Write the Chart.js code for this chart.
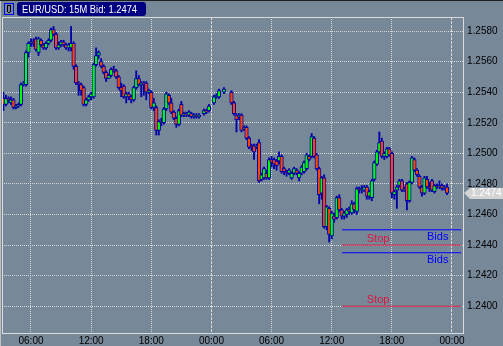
<!DOCTYPE html>
<html>
<head>
<meta charset="utf-8">
<style>
html, body { margin: 0; padding: 0; background: #778899; }
canvas { display: block; }
</style>
<script src="https://cdn.jsdelivr.net/npm/chart.js@4.4.1/dist/chart.umd.min.js"></script>
</head>
<body>
<canvas id="grafico" width="503" height="346"></canvas>
<script>
// datos de velas EUR/USD 15M (null = sin barra)
const opens = [
    1.2536,1.2532,1.2536,1.2533,1.2535,1.2530,1.2531,1.2532,1.2545,1.2545,
    1.2566,1.2572,1.2573,1.2575,1.2566,1.2574,1.2571,1.2569,1.2572,1.2574,
    1.2581,1.2578,1.2569,1.2571,1.2573,1.2571,1.2569,1.2569,1.2572,1.2557,
    1.2546,1.2545,1.2543,1.2532,1.2535,1.2537,1.2537,1.2558,1.2564,1.2560,
    1.2557,1.2553,1.2549,1.2551,1.2555,1.2554,1.2550,1.2543,1.2544,1.2537,
    1.2539,1.2537,1.2535,1.2543,1.2549,1.2545,1.2546,1.2546,1.2540,1.2540,
    1.2530,1.2530,1.2515,1.2521,1.2520,1.2529,1.2538,1.2533,1.2527,1.2523,
    1.2519,1.2532,1.2525,1.2526,1.2525,1.2526,1.2524,1.2525,1.2524,null,
    1.2526,1.2528,1.2528,null,1.2533,1.2537,1.2537,null,1.2540,null,
    null,1.2540,1.2533,1.2525,1.2524,1.2525,1.2516,1.2517,1.2510,1.2505,
    1.2505,1.2504,1.2507,1.2483,1.2484,1.2487,1.2484,1.2496,1.2496,1.2495,
    1.2495,1.2498,1.2490,1.2488,1.2487,1.2484,1.2487,1.2489,1.2484,1.2487,
    1.2488,1.2490,1.2498,1.2498,1.2510,1.2499,1.2490,1.2474,1.2484,1.2452,
    1.2464,1.2446,1.2459,1.2458,1.2471,1.2463,1.2459,1.2460,1.2463,1.2461,
    1.2467,1.2462,1.2477,1.2476,1.2476,1.2478,1.2472,1.2471,1.2483,1.2493,
    1.2501,1.2508,1.2498,1.2498,1.2503,1.2500,1.2473,1.2476,1.2479,1.2482,
    1.2476,1.2480,1.2469,1.2481,1.2496,1.2489,1.2485,1.2478,1.2474,1.2483,
    1.2478,1.2482,1.2475,1.2479,1.2478,1.2479,1.2477,1.2478
];
const highs = [
    1.2540,1.2538,1.2537,1.2537,1.2536,1.2532,1.2533,1.2546,1.2547,1.2567,
    1.2573,1.2575,1.2575,1.2576,1.2576,1.2575,1.2572,1.2573,1.2575,1.2582,
    1.2583,1.2579,1.2573,1.2574,1.2574,1.2572,1.2572,1.2583,1.2573,1.2558,
    1.2547,1.2546,1.2544,1.2536,1.2538,1.2540,1.2559,1.2569,1.2567,1.2562,
    1.2558,1.2554,1.2552,1.2556,1.2557,1.2555,1.2551,1.2546,1.2545,1.2540,
    1.2540,1.2538,1.2544,1.2554,1.2551,1.2547,1.2547,1.2547,1.2542,1.2541,
    1.2536,1.2531,1.2522,1.2523,1.2530,1.2540,1.2539,1.2536,1.2528,1.2524,
    1.2529,1.2534,1.2527,1.2527,1.2528,1.2527,1.2526,1.2526,1.2526,null,
    1.2529,1.2529,1.2532,null,1.2538,1.2539,1.2542,null,1.2543,null,
    null,1.2541,1.2534,1.2526,1.2526,1.2526,1.2518,1.2518,1.2511,1.2506,
    1.2506,1.2506,1.2509,1.2487,1.2491,1.2489,1.2497,1.2498,1.2497,1.2496,
    1.2501,1.2499,1.2491,1.2489,1.2490,1.2488,1.2491,1.2490,1.2488,1.2492,
    1.2495,1.2500,1.2499,1.2513,1.2511,1.2500,1.2491,1.2485,1.2486,1.2466,
    1.2465,1.2462,1.2461,1.2472,1.2473,1.2464,1.2462,1.2464,1.2465,1.2469,
    1.2468,1.2478,1.2478,1.2479,1.2479,1.2479,1.2476,1.2483,1.2495,1.2502,
    1.2514,1.2510,1.2501,1.2504,1.2504,1.2501,1.2476,1.2479,1.2483,1.2483,
    1.2478,1.2481,1.2482,1.2498,1.2497,1.2490,1.2486,1.2479,1.2485,1.2485,
    1.2481,1.2483,1.2480,1.2480,1.2482,1.2480,1.2479,1.2480
];
const lows = [
    1.2528,1.2531,1.2533,1.2532,1.2529,1.2529,1.2530,1.2531,1.2544,1.2544,
    1.2563,1.2570,1.2570,1.2567,1.2564,1.2570,1.2568,1.2568,1.2571,1.2573,
    1.2577,1.2568,1.2568,1.2570,1.2570,1.2568,1.2567,1.2567,1.2555,1.2545,
    1.2538,1.2538,1.2531,1.2531,1.2534,1.2535,1.2536,1.2557,1.2562,1.2556,
    1.2552,1.2547,1.2549,1.2550,1.2553,1.2549,1.2542,1.2537,1.2536,1.2533,
    1.2535,1.2533,1.2534,1.2542,1.2544,1.2537,1.2538,1.2535,1.2539,1.2529,
    1.2528,1.2512,1.2512,1.2518,1.2519,1.2528,1.2532,1.2526,1.2522,1.2517,
    1.2518,1.2524,1.2524,1.2524,1.2524,1.2523,1.2523,1.2523,1.2523,null,
    1.2525,1.2526,1.2527,null,1.2532,1.2536,1.2536,null,1.2539,null,
    null,1.2532,1.2525,1.2514,1.2522,1.2514,1.2515,1.2509,1.2503,1.2502,
    1.2496,1.2503,1.2481,1.2482,1.2483,1.2483,1.2483,1.2491,1.2490,1.2489,
    1.2493,1.2487,1.2486,1.2485,1.2486,1.2483,1.2486,1.2486,1.2482,1.2486,
    1.2487,1.2489,1.2495,1.2497,1.2497,1.2489,1.2467,1.2470,1.2451,1.2450,
    1.2442,1.2444,1.2455,1.2457,1.2462,1.2457,1.2457,1.2458,1.2460,1.2460,
    1.2461,1.2460,1.2474,1.2474,1.2475,1.2470,1.2470,1.2469,1.2482,1.2492,
    1.2500,1.2497,1.2496,1.2497,1.2498,1.2471,1.2470,1.2464,1.2478,1.2475,
    1.2475,1.2463,1.2468,1.2480,1.2488,1.2485,1.2477,1.2472,1.2473,1.2477,
    1.2475,1.2475,1.2474,1.2477,1.2477,1.2476,1.2476,1.2473
];
const closes = [
    1.2532,1.2536,1.2535,1.2535,1.2530,1.2531,1.2532,1.2545,1.2546,1.2566,
    1.2572,1.2573,1.2572,1.2568,1.2575,1.2571,1.2569,1.2572,1.2574,1.2581,
    1.2578,1.2569,1.2571,1.2573,1.2571,1.2569,1.2571,1.2572,1.2557,1.2546,
    1.2545,1.2541,1.2532,1.2535,1.2537,1.2539,1.2558,1.2564,1.2566,1.2557,
    1.2553,1.2549,1.2551,1.2555,1.2554,1.2550,1.2543,1.2541,1.2537,1.2539,
    1.2537,1.2535,1.2543,1.2549,1.2545,1.2546,1.2545,1.2540,1.2541,1.2530,
    1.2533,1.2515,1.2521,1.2520,1.2529,1.2539,1.2533,1.2527,1.2523,1.2519,
    1.2528,1.2525,1.2526,1.2525,1.2527,1.2524,1.2525,1.2524,1.2525,null,
    1.2528,1.2527,1.2531,null,1.2537,1.2538,1.2541,null,1.2542,null,
    null,1.2533,1.2526,1.2522,1.2525,1.2515,1.2517,1.2510,1.2504,1.2504,
    1.2501,1.2505,1.2482,1.2486,1.2490,1.2484,1.2496,1.2494,1.2493,1.2492,
    1.2498,1.2488,1.2488,1.2487,1.2489,1.2487,1.2490,1.2487,1.2487,1.2491,
    1.2494,1.2499,1.2496,1.2511,1.2498,1.2490,1.2473,1.2484,1.2452,1.2465,
    1.2447,1.2461,1.2457,1.2471,1.2463,1.2459,1.2461,1.2463,1.2462,1.2467,
    1.2463,1.2477,1.2476,1.2477,1.2478,1.2472,1.2475,1.2482,1.2494,1.2501,
    1.2507,1.2498,1.2500,1.2503,1.2499,1.2474,1.2475,1.2478,1.2482,1.2476,
    1.2477,1.2469,1.2481,1.2497,1.2489,1.2486,1.2478,1.2474,1.2484,1.2478,
    1.2477,1.2476,1.2479,1.2478,1.2479,1.2477,1.2478,1.2474
];

// ejes
const timeTicks = [11, 35, 59, 83, 107, 131, 155, 179];
const timeLabels = ['06:00', '12:00', '18:00', '00:00', '06:00', '12:00', '18:00', '00:00'];
const priceTicks = [1.2400, 1.2420, 1.2440, 1.2460, 1.2480, 1.2500, 1.2520, 1.2540, 1.2560, 1.2580];

// ordenes (lineas Stop / Bids)
const orderLevels = [1.2450, 1.2440, 1.2435, 1.2400];
const orderNames = ['Bids', 'Stop', 'Bids', 'Stop'];
const orderStart = 135.1;
const orderEnd = 182.6;

const titulo = 'EUR/USD: 15M Bid: 1.2474';
const bid = 1.2474;

const AZUL = '#0000a8';
const colores = { Bids: '#0000ff', Stop: '#dc143c' };

//armamos los datasets de las velas
const cuerpos = [], mechas = [], fondo = [];
for (let i = 0; i < opens.length; i++) {
    if (opens[i] === null) continue;
    cuerpos.push({ x: i, y: [opens[i], closes[i]] });
    mechas.push({ x: i, y: [lows[i], highs[i]] });
    fondo.push(closes[i] >= opens[i] ? '#00ff00' : '#ff4500');
}

const lineas = orderLevels.map((nivel, k) => ({
    type: 'line',
    data: [{ x: orderStart, y: nivel }, { x: orderEnd, y: nivel }],
    borderColor: colores[orderNames[k]],
    borderWidth: 1,
    pointRadius: 0,
    order: -1
}));

// marco, titulo, etiqueta de precio y textos
const adornos = {
    id: 'adornos',
    beforeDraw(chart) {
        const ctx = chart.ctx;
        ctx.save();
        ctx.fillStyle = '#778899';
        ctx.fillRect(0, 0, chart.width, chart.height);
        ctx.restore();
    },
    afterDatasetsDraw(chart) {
        const { ctx, chartArea: a } = chart;
        ctx.save();
        ctx.strokeStyle = '#dcdcdc';
        ctx.lineWidth = 1;
        ctx.strokeRect(Math.round(a.left) + 0.5, Math.round(a.top) + 0.5,
            Math.round(a.right - a.left), Math.round(a.bottom - a.top));
        ctx.restore();
    },
    afterDraw(chart) {
        const { ctx, chartArea: a } = chart;
        const xs = chart.scales.x, ys = chart.scales.y;
        ctx.save();

        // borde de ventana
        ctx.fillStyle = '#202020';
        ctx.fillRect(0, 0, chart.width, 1);
        ctx.fillStyle = '#c0c0c0';
        ctx.fillRect(0, 1, 1, chart.height);

        // icono
        ctx.strokeStyle = '#0000ff';
        ctx.strokeRect(4.5, 3.5, 9, 11);
        ctx.fillStyle = '#000';
        ctx.fillRect(7, 5, 4, 1);
        ctx.fillRect(7, 6, 1, 6);
        ctx.fillRect(10, 6, 1, 6);
        ctx.fillRect(8, 12, 2, 1);

        // caja del titulo
        ctx.fillStyle = '#000080';
        ctx.beginPath();
        ctx.roundRect(17, 2, 129, 14, 3);
        ctx.fill();
        ctx.fillStyle = '#ffffff';
        ctx.font = '11px "Liberation Sans", Arial, sans-serif';
        ctx.textBaseline = 'middle';
        ctx.textAlign = 'left';
        ctx.fillText(titulo, 22, 9.5, 115);

        // textos Stop / Bids
        ctx.font = '11px "Liberation Sans", Arial, sans-serif';
        ctx.textAlign = 'center';
        orderLevels.forEach((nivel, k) => {
            const nombre = orderNames[k];
            const y = ys.getPixelForValue(nivel);
            const x = xs.getPixelForValue(nombre === 'Stop' ? 149.5 : 173.3);
            ctx.fillStyle = colores[nombre];
            ctx.fillText(nombre, x, nombre === 'Stop' ? y - 6.5 : y + 7);
        });

        // etiqueta del precio actual
        const yb = Math.round(ys.getPixelForValue(bid));
        const xr = a.right;
        ctx.fillStyle = '#d3d3d3';
        ctx.beginPath();
        ctx.moveTo(xr + 1, yb);
        ctx.lineTo(xr + 7, yb - 5);
        ctx.lineTo(chart.width, yb - 5);
        ctx.lineTo(chart.width, yb + 6);
        ctx.lineTo(xr + 7, yb + 6);
        ctx.closePath();
        ctx.fill();
        ctx.fillStyle = '#ffffff';
        ctx.font = '10px "Liberation Sans", Arial, sans-serif';
        ctx.textAlign = 'left';
        ctx.fillText(bid.toFixed(4), xr + 8, yb + 0.5);

        ctx.restore();
    }
};

const ctx = document.getElementById('grafico').getContext('2d');
new Chart(ctx, {
    type: 'bar',
    data: {
        datasets: [
            {
                data: cuerpos,
                backgroundColor: fondo,
                borderColor: AZUL,
                borderWidth: 1,
                borderSkipped: false,
                barThickness: 3.6,
                grouped: false,
                order: 0
            },
            {
                data: mechas,
                backgroundColor: AZUL,
                borderWidth: 0,
                barThickness: 1.2,
                grouped: false,
                order: 1
            },
            ...lineas
        ]
    },
    options: {
        responsive: false,
        animation: false,
        events: [],
        layout: { padding: { left: 2, top: 17, right: 0, bottom: 0 } },
        plugins: { legend: { display: false }, tooltip: { enabled: false }, title: { display: false } },
        scales: {
            x: {
                type: 'linear',
                min: -0.57,
                max: 183.39,
                offset: false,
                afterFit: s => { s.height = 13; },
                afterBuildTicks: s => { s.ticks = timeTicks.map(v => ({ value: v })); },
                grid: { offset: false, color: '#d8d8d8', lineWidth: 1, drawTicks: false },
                border: {
                    display: false,
                    dash: c => (c.index === 3 || c.index === 7) ? [3, 1] : [1, 1]
                },
                ticks: {
                    autoSkip: false,
                    maxRotation: 0,
                    minRotation: 0,
                    padding: 2,
                    color: '#000',
                    font: { family: '"Liberation Sans", Arial, sans-serif', size: 10 },
                    callback: (v, i) => timeLabels[i]
                }
            },
            y: {
                type: 'linear',
                position: 'right',
                min: 1.23825,
                max: 1.25892,
                afterFit: s => { s.width = 40; },
                afterBuildTicks: s => { s.ticks = priceTicks.map(v => ({ value: v })); },
                grid: { color: '#d8d8d8', lineWidth: 1, drawTicks: false },
                border: { display: false, dash: [1, 1] },
                ticks: {
                    padding: 4,
                    color: '#000',
                    font: { family: '"Liberation Sans", Arial, sans-serif', size: 10 },
                    callback: v => v.toFixed(4)
                }
            }
        }
    },
    plugins: [adornos]
});
</script>
</body>
</html>
